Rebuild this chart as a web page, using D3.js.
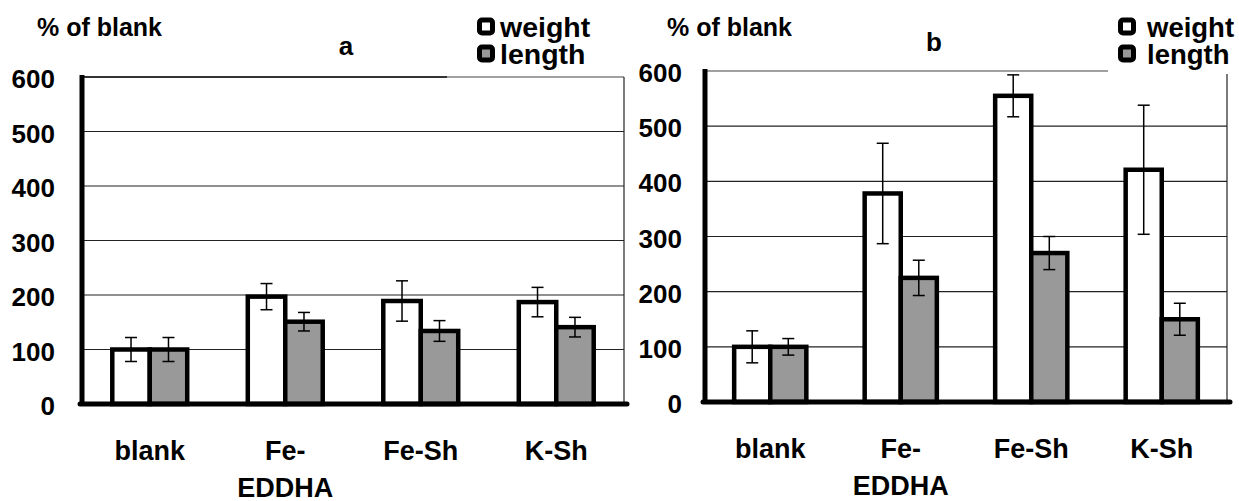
<!DOCTYPE html>
<html>
<head>
<meta charset="utf-8">
<script src="https://cdn.jsdelivr.net/npm/d3@7"></script>
<style>
    body { margin: 0; background: #fff; }
    svg text { font-family: "Liberation Sans", Arial, sans-serif; font-weight: bold; fill: #000; }
</style>
</head>
<body>
<svg id="figure" width="1239" height="501"></svg>
<script>
// categories and labels (Fe-EDDHA wraps on two lines)
const categories = ["blank", "Fe-EDDHA", "Fe-Sh", "K-Sh"];
const categoryLines = [["blank"], ["Fe-", "EDDHA"], ["Fe-Sh"], ["K-Sh"]];
const seriesNames = ["weight", "length"];
const seriesFill = {weight: "#ffffff", length: "#999999"};
const yTicks = [0, 100, 200, 300, 400, 500, 600];

// panel a
const weightA    = [100, 197, 189, 187];
const weightErrA = [22, 24, 37, 27];
const lengthA    = [100, 151, 134, 141];
const lengthErrA = [22, 17, 19, 18];

// panel b
const weightB    = [100, 378, 555, 421];
const weightErrB = [29, 91, 38, 117];
const lengthB    = [100, 225, 270, 150];
const lengthErrB = [15, 32, 30, 29];

const svg = d3.select("#figure");

function drawPanel(p) {
    const g = svg.append("g");

    const x0 = d3.scaleBand()
        .domain(categories)
        .range([p.left, p.right])
        .paddingInner(0.447)
        .paddingOuter(0.2235);

    const x1 = d3.scaleBand()
        .domain(seriesNames)
        .range([0, x0.bandwidth()]);

    const y = d3.scaleLinear()
        .domain([0, 600])
        .range([p.bottom, p.top]);

    // gridlines
    g.append("g")
        .selectAll("line")
        .data(yTicks.filter(t => t > 0))
        .join("line")
        .attr("x1", p.left)
        .attr("x2", d => d === 600 ? p.gridTopEnd : p.right)
        .attr("y1", d => y(d))
        .attr("y2", d => y(d))
        .attr("stroke", d => d === 600 ? "#808080" : "#222")
        .attr("stroke-width", d => d === 600 ? 1.6 : 1.1);

    // top gridline is darker over its first part in panel a
    if (p.gridTopDarkEnd) {
        g.append("line")
            .attr("x1", p.left).attr("x2", p.gridTopDarkEnd)
            .attr("y1", y(600)).attr("y2", y(600))
            .attr("stroke", "#111").attr("stroke-width", 1.6);
    }

    // right border of plot area
    g.append("line")
        .attr("x1", p.right).attr("x2", p.right)
        .attr("y1", y(600) + p.borderTopGap).attr("y2", p.bottom)
        .attr("stroke", "#222")
        .attr("stroke-width", 1.2);

    // tick labels
    g.append("g")
        .selectAll("text")
        .data(yTicks)
        .join("text")
        .attr("x", p.left - p.tickGap)
        .attr("y", d => y(d) + 2)
        .attr("dy", "0.35em")
        .attr("text-anchor", "end")
        .style("font-size", "26px")
        .text(d => d);

    // rows of data
    const rows = categories.map((c, i) => ({
        cat: c,
        weight: p.weight[i], weightErr: p.weightErr[i],
        length: p.length[i], lengthErr: p.lengthErr[i]
    }));

    const groups = g.append("g")
        .selectAll("g")
        .data(rows)
        .join("g")
        .attr("transform", d => "translate(" + x0(d.cat) + ",0)");

    const bars = groups.selectAll("g.bar")
        .data(d => seriesNames.map(k => ({key: k, value: d[k], err: d[k + "Err"]})))
        .join("g")
        .attr("class", "bar");

    bars.append("rect")
        .attr("x", d => x1(d.key))
        .attr("y", d => y(d.value))
        .attr("width", x1.bandwidth())
        .attr("height", d => p.bottom - y(d.value))
        .attr("fill", d => seriesFill[d.key])
        .attr("stroke", "#000")
        .attr("stroke-width", 4.5);

    // error bars
    const cap = 6;
    const cx = d => x1(d.key) + x1.bandwidth() / 2;
    bars.append("line")
        .attr("x1", cx).attr("x2", cx)
        .attr("y1", d => y(d.value + d.err))
        .attr("y2", d => y(d.value - d.err))
        .attr("stroke", "#000").attr("stroke-width", 1.5);
    bars.selectAll("line.cap")
        .data(d => [
            {x: cx(d), y: y(d.value + d.err)},
            {x: cx(d), y: y(d.value - d.err)}
        ])
        .join("line")
        .attr("class", "cap")
        .attr("x1", d => d.x - cap).attr("x2", d => d.x + cap)
        .attr("y1", d => d.y).attr("y2", d => d.y)
        .attr("stroke", "#000").attr("stroke-width", 1.5);

    // axes lines (thick)
    g.append("line")
        .attr("x1", p.left).attr("x2", p.left)
        .attr("y1", y(600) - 2).attr("y2", p.bottom + 2)
        .attr("stroke", "#000").attr("stroke-width", 5);
    g.append("line")
        .attr("x1", p.left - 2).attr("x2", p.right + 3)
        .attr("y1", p.bottom).attr("y2", p.bottom)
        .attr("stroke", "#000").attr("stroke-width", 5)
        .attr("stroke-linecap", "round");

    // category labels
    g.append("g")
        .selectAll("text")
        .data(categories)
        .join("text")
        .attr("x", d => x0(d) + x0.bandwidth() / 2)
        .attr("y", p.bottom + 56)
        .attr("text-anchor", "middle")
        .style("font-size", "27px")
        .selectAll("tspan")
        .data((d, i) => categoryLines[i])
        .join("tspan")
        .attr("x", function () { return d3.select(this.parentNode).attr("x"); })
        .attr("dy", (d, i) => i === 0 ? 0 : 37)
        .text(d => d);

    // y title and panel title
    g.append("text")
        .attr("x", p.yTitleX).attr("y", 36)
        .style("font-size", "25px")
        .text("% of blank");
    g.append("text")
        .attr("x", p.titleX).attr("y", p.titleY)
        .attr("text-anchor", "middle")
        .style("font-size", "26px")
        .text(p.title);

    // legend
    const leg = g.append("g").attr("transform", "translate(" + p.legendX + ",0)");
    const items = leg.selectAll("g")
        .data(seriesNames)
        .join("g")
        .attr("transform", (d, i) => "translate(0," + (i * 27) + ")");
    items.append("rect")
        .attr("x", 2.5).attr("y", 20)
        .attr("width", 13).attr("height", 13)
        .attr("rx", 2.5)
        .attr("fill", d => seriesFill[d])
        .attr("stroke", "#000")
        .attr("stroke-width", 5);
    items.append("text")
        .attr("x", p.legendTextDx).attr("y", 37)
        .style("font-size", p.legendFont + "px")
        .text(d => d);
}

drawPanel({
    left: 82, right: 624, top: 77, bottom: 404,
    gridTopEnd: 624, gridTopDarkEnd: 447, borderTopGap: 0, tickGap: 27,
    weight: weightA, weightErr: weightErrA, length: lengthA, lengthErr: lengthErrA,
    yTitleX: 37, title: "a", titleX: 346, titleY: 55,
    legendX: 477, legendTextDx: 23, legendFont: 28.5
});

drawPanel({
    left: 705, right: 1227, top: 71, bottom: 402,
    gridTopEnd: 1108, gridTopDarkEnd: 0, borderTopGap: 3, tickGap: 23,
    weight: weightB, weightErr: weightErrB, length: lengthB, lengthErr: lengthErrB,
    yTitleX: 667, title: "b", titleX: 934, titleY: 51,
    legendX: 1118, legendTextDx: 29, legendFont: 27.5
});
</script>
</body>
</html>
